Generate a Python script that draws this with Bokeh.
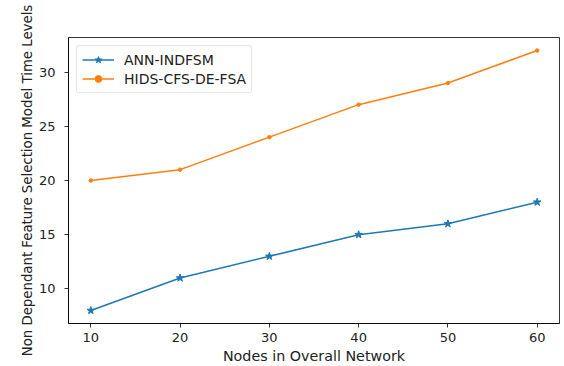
from bokeh.plotting import figure
from bokeh.models import Range1d, FixedTicker, Legend, LegendItem
from bokeh.embed import file_html
from bokeh.resources import INLINE

nodes = [10, 20, 30, 40, 50, 60]
ann_indfsm = [8, 11, 13, 15, 16, 18]
hids_cfs = [20, 21, 24, 27, 29, 32]
x_ticks = [10, 20, 30, 40, 50, 60]
y_ticks = [10, 15, 20, 25, 30]

BLUE = "#1f77b4"
ORANGE = "#ff7f0e"
FONT = "DejaVu Sans"

p = figure(width=561, height=366, output_backend="svg", toolbar_location=None,
           x_range=Range1d(7.5, 62.5), y_range=Range1d(6.8, 33.2),
           min_border_left=68, min_border_right=2, min_border_top=37, min_border_bottom=41)
p.outline_line_color = "black"
p.outline_line_width = 0.8
p.xgrid.visible = False
p.ygrid.visible = False
p.background_fill_color = "white"
p.border_fill_color = "white"

for ax in (p.xaxis[0], p.yaxis[0]):
    ax.axis_line_color = "black"
    ax.axis_line_width = 0.8
    ax.major_tick_in = 0
    ax.major_tick_out = 4
    ax.major_tick_line_width = 0.8
    ax.minor_tick_line_color = None
    ax.major_label_text_font = FONT
    ax.major_label_text_font_size = "13px"
    ax.major_label_text_color = "#222222"
    ax.axis_label_text_font = FONT
    ax.axis_label_text_font_style = "normal"
    ax.axis_label_text_color = "#222222"

p.xaxis.axis_label_text_font_size = "14.3px"
p.yaxis.axis_label_text_font_size = "13.3px"
p.xaxis.ticker = FixedTicker(ticks=x_ticks)
p.yaxis.ticker = FixedTicker(ticks=y_ticks)
p.xaxis.axis_label = "Nodes in Overall Network"
p.yaxis.axis_label = "Non Dependant Feature Selection Model Time Levels"
p.xaxis.axis_label_standoff = 3
p.yaxis.axis_label_standoff = 1
p.xaxis.major_label_standoff = 5
p.yaxis.major_label_standoff = 9

l1 = p.line(nodes, ann_indfsm, line_color=BLUE, line_width=1.5)
m1 = p.scatter(nodes, ann_indfsm, marker="star", size=8, fill_color=BLUE, line_color=BLUE)
l2 = p.line(nodes, hids_cfs, line_color=ORANGE, line_width=1.5)
m2 = p.scatter(nodes, hids_cfs, marker="circle", size=3.5, fill_color=ORANGE, line_color=ORANGE)

legend = Legend(items=[LegendItem(label="ANN-INDFSM", renderers=[l1, m1]),
                       LegendItem(label="HIDS-CFS-DE-FSA", renderers=[l2, m2])],
                location="top_left")
legend.label_text_font = FONT
legend.label_text_font_size = "14px"
legend.label_text_color = "#222222"
legend.border_line_color = "#cccccc"
legend.border_line_width = 1
legend.border_radius = 3
legend.background_fill_alpha = 0.8
legend.margin = 8
legend.padding = 5
legend.spacing = 2
legend.glyph_width = 32
legend.glyph_height = 17
legend.label_standoff = 10
legend.label_height = 17
p.add_layout(legend)

open("out.html", "w").write(file_html(p, INLINE))
